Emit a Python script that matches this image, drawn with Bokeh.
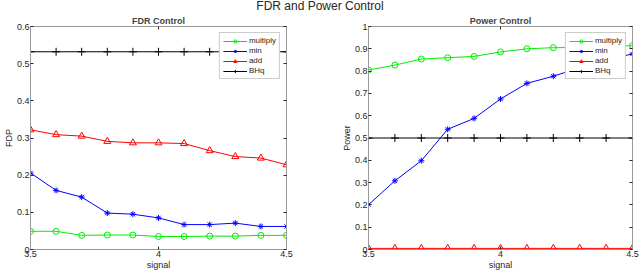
from bokeh.plotting import figure
from bokeh.models import (Range1d, FixedTicker, LinearAxis, CustomJSTickFormatter,
                          Div, Legend, LegendItem)
from bokeh.layouts import column, row
from bokeh.embed import file_html
from bokeh.resources import INLINE

signal = [3.5, 3.6, 3.7, 3.8, 3.9, 4.0, 4.1, 4.2, 4.3, 4.4, 4.5]

fdr_multiply = [0.049, 0.049, 0.038, 0.039, 0.039, 0.035, 0.035, 0.036, 0.036, 0.038, 0.038]
fdr_min = [0.206, 0.159, 0.141, 0.098, 0.095, 0.085, 0.067, 0.067, 0.071, 0.062, 0.062]
fdr_add = [0.322, 0.309, 0.305, 0.291, 0.287, 0.287, 0.285, 0.266, 0.250, 0.246, 0.228]
fdr_bhq = [0.532] * 11

pow_multiply = [0.805, 0.827, 0.854, 0.860, 0.866, 0.886, 0.900, 0.905, 0.906, 0.910, 0.914]
pow_min = [0.201, 0.308, 0.398, 0.539, 0.588, 0.675, 0.745, 0.777, 0.815, 0.850, 0.877]
pow_add = [0.005] * 11
pow_bhq = [0.5] * 11

x_ticks = [3.5, 4, 4.5]
fdr_ticks = [0, 0.1, 0.2, 0.3, 0.4, 0.5, 0.6]
pow_ticks = [0, 0.1, 0.2, 0.3, 0.4, 0.5, 0.6, 0.7, 0.8, 0.9, 1]

FONT = "Liberation Sans"
AXC = "#9a9a9a"
TXT = "#262626"
fmt_code = "return String(Math.round(tick*10)/10)"
empty_code = "return ''"


def style_axis(ax, ticks, show_labels=True):
    ax.ticker = FixedTicker(ticks=ticks)
    ax.formatter = CustomJSTickFormatter(code=fmt_code if show_labels else empty_code)
    ax.axis_line_color = AXC
    ax.major_tick_line_color = TXT
    ax.major_tick_in = 3
    ax.major_tick_out = 0
    ax.minor_tick_line_color = None
    ax.major_label_text_font = FONT
    ax.major_label_text_font_size = "9px"
    ax.major_label_text_color = TXT
    ax.major_label_standoff = 1
    ax.axis_label_text_font = FONT
    ax.axis_label_text_font_size = "9px"
    ax.axis_label_text_font_style = "normal"
    ax.axis_label_text_color = TXT
    ax.axis_label_standoff = 0
    if not show_labels:
        ax.major_label_standoff = 0


def make_panel(title, ylabel, yticks, ymax, series, width, mbl, mbr):
    p = figure(width=width, height=260, output_backend="svg", toolbar_location=None,
               x_range=Range1d(3.5, 4.5), y_range=Range1d(0, ymax),
               min_border_left=mbl, min_border_right=mbr,
               min_border_top=2, min_border_bottom=2)
    p.title.text = title
    p.title.align = "center"
    p.title.text_font = FONT
    p.title.text_font_size = "9px"
    p.title.text_font_style = "bold"
    p.title.standoff = 2
    p.xgrid.visible = False
    p.ygrid.visible = False
    p.outline_line_color = None
    style_axis(p.xaxis[0], x_ticks)
    style_axis(p.yaxis[0], yticks)
    p.xaxis.axis_label = "signal"
    p.yaxis.axis_label = ylabel
    top = LinearAxis()
    style_axis(top, x_ticks, False)
    right = LinearAxis()
    style_axis(right, yticks, False)
    p.add_layout(top, "above")
    p.add_layout(right, "right")

    items = []
    for name, ys, color, marker, size in series:
        ln = p.line(signal, ys, line_color=color, line_width=1)
        sc = p.scatter(signal, ys, marker=marker, size=size, line_color=color,
                       fill_color=None, line_width=1)
        items.append(LegendItem(label=name, renderers=[ln, sc]))
    leg = Legend(items=items, location="top_right")
    leg.label_text_font = FONT
    leg.label_text_font_size = "8px"
    leg.label_text_color = TXT
    leg.label_height = 8
    leg.label_standoff = 2
    leg.glyph_width = 24
    leg.glyph_height = 8
    leg.spacing = 1
    leg.padding = 3
    leg.margin = 6
    leg.border_line_color = AXC
    leg.background_fill_alpha = 1
    p.add_layout(leg, "center")
    return p


fdr_series = [
    ("multiply", fdr_multiply, "#00ee00", "circle", 6),
    ("min", fdr_min, "#0000ff", "asterisk", 6),
    ("add", fdr_add, "#ff0000", "triangle", 7),
    ("BHq", fdr_bhq, "#000000", "cross", 8),
]
pow_series = [
    ("multiply", pow_multiply, "#00ee00", "circle", 6),
    ("min", pow_min, "#0000ff", "asterisk", 6),
    ("add", pow_add, "#ff0000", "triangle", 7),
    ("BHq", pow_bhq, "#000000", "cross", 8),
]

p1 = make_panel("FDR Control", "FDP", fdr_ticks, 0.6, fdr_series, 338, 10, 52)
p2 = make_panel("Power Control", "Power", pow_ticks, 1.0, pow_series, 302, 10, 8)

title = Div(text="FDR and Power Control", width=640, height=12, margin=0,
            styles={"text-align": "center", "font-size": "12px", "line-height": "12px",
                    "font-family": FONT, "color": TXT, "width": "640px"})

layout = column(title, row(p1, p2, margin=0), margin=0)

with open("out.html", "w") as f:
    f.write(file_html(layout, INLINE))
